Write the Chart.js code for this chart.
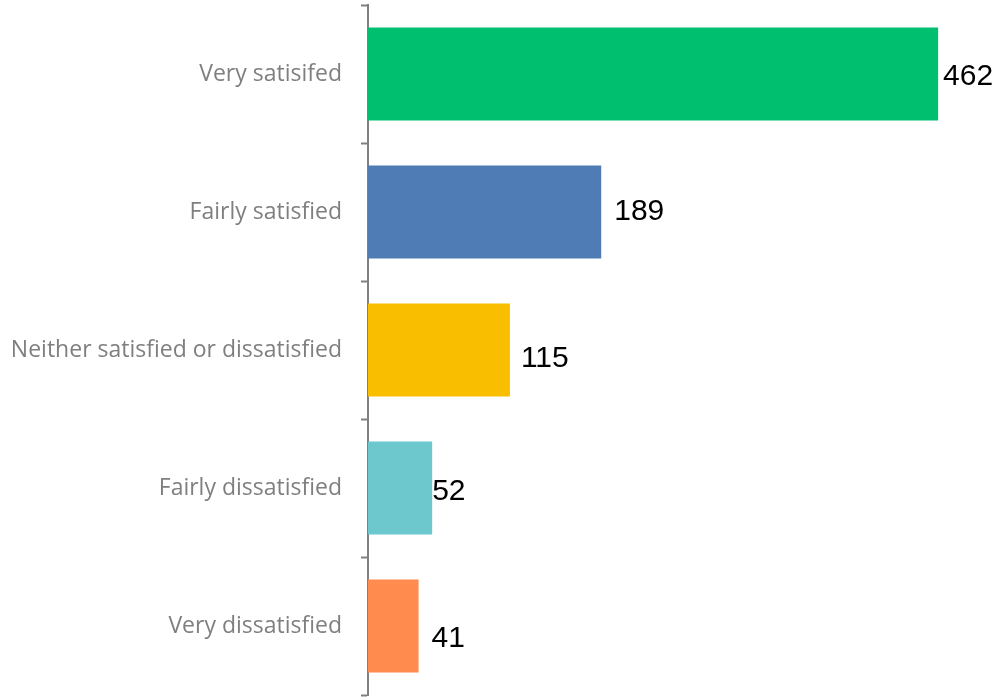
<!DOCTYPE html>
<html>
<head>
<meta charset="utf-8">
<script src="https://cdn.jsdelivr.net/npm/chart.js@4"></script>
<style>
  html, body { margin: 0; padding: 0; background: #fff; }
  #wrap { width: 1000px; height: 698px; }
</style>
</head>
<body>
<div id="wrap"><canvas id="satChart"></canvas></div>
<script>
// satisfaction responses
const categories = ['Very satisifed', 'Fairly satisfied', 'Neither satisfied or dissatisfied', 'Fairly dissatisfied', 'Very dissatisfied'];
const counts = [462, 189, 115, 52, 41];
const barColors = ['#00BF6F', '#4F7CB5', '#F9BE00', '#6CC8CC', '#FF8B4F'];

// value labels sit next to the bar end (nudged by hand like the original)
const valueLabels = {
    id: 'valueLabels',
    afterDatasetsDraw(chart, args, opts) {
        const ctx = chart.ctx;
        const meta = chart.getDatasetMeta(0);
        ctx.save();
        ctx.font = opts.font;
        ctx.fillStyle = opts.color;
        ctx.textAlign = 'left';
        ctx.textBaseline = 'middle';
        meta.data.forEach((bar, i) => {
            const dx = opts.dx[i] || 0, dy = opts.dy[i] || 0;
            ctx.fillText(String(counts[i]), bar.x + dx, bar.y + dy);
        });
        ctx.restore();
    }
};

new Chart(document.getElementById('satChart').getContext('2d'), {
    type: 'bar',
    data: {
        labels: categories,
        datasets: [{ data: counts, backgroundColor: barColors, categoryPercentage: 1, barPercentage: 0.675 }]
    },
    options: {
        indexAxis: 'y',
        responsive: true,
        maintainAspectRatio: false,
        animation: false,
        layout: { padding: { top: 5, bottom: 3, right: 15 } },
        plugins: {
            legend: { display: false },
            tooltip: { enabled: false },
            valueLabels: {
                font: '30px "Liberation Sans", Arial, sans-serif',
                color: '#000',
                dx: [5, 13, 11, 0, 13],
                dy: [3, 0, 9, 4, 13]
            }
        },
        scales: {
            x: { display: false, min: 0, max: 500 },
            y: {
                afterFit(scale) {
                    scale.width = 368;
                    scale.paddingTop = 0;
                    scale.paddingBottom = 0;
                },
                border: { display: true, color: '#808080', width: 2 },
                grid: { offset: true, drawOnChartArea: false, drawTicks: true, tickLength: 7, tickColor: '#808080', tickWidth: 2 },
                ticks: { color: '#7F7F7F', padding: 19, font: { family: '"Open Sans", sans-serif', size: 23, lineHeight: 1.0 } }
            }
        }
    },
    plugins: [valueLabels]
});
</script>
</body>
</html>
